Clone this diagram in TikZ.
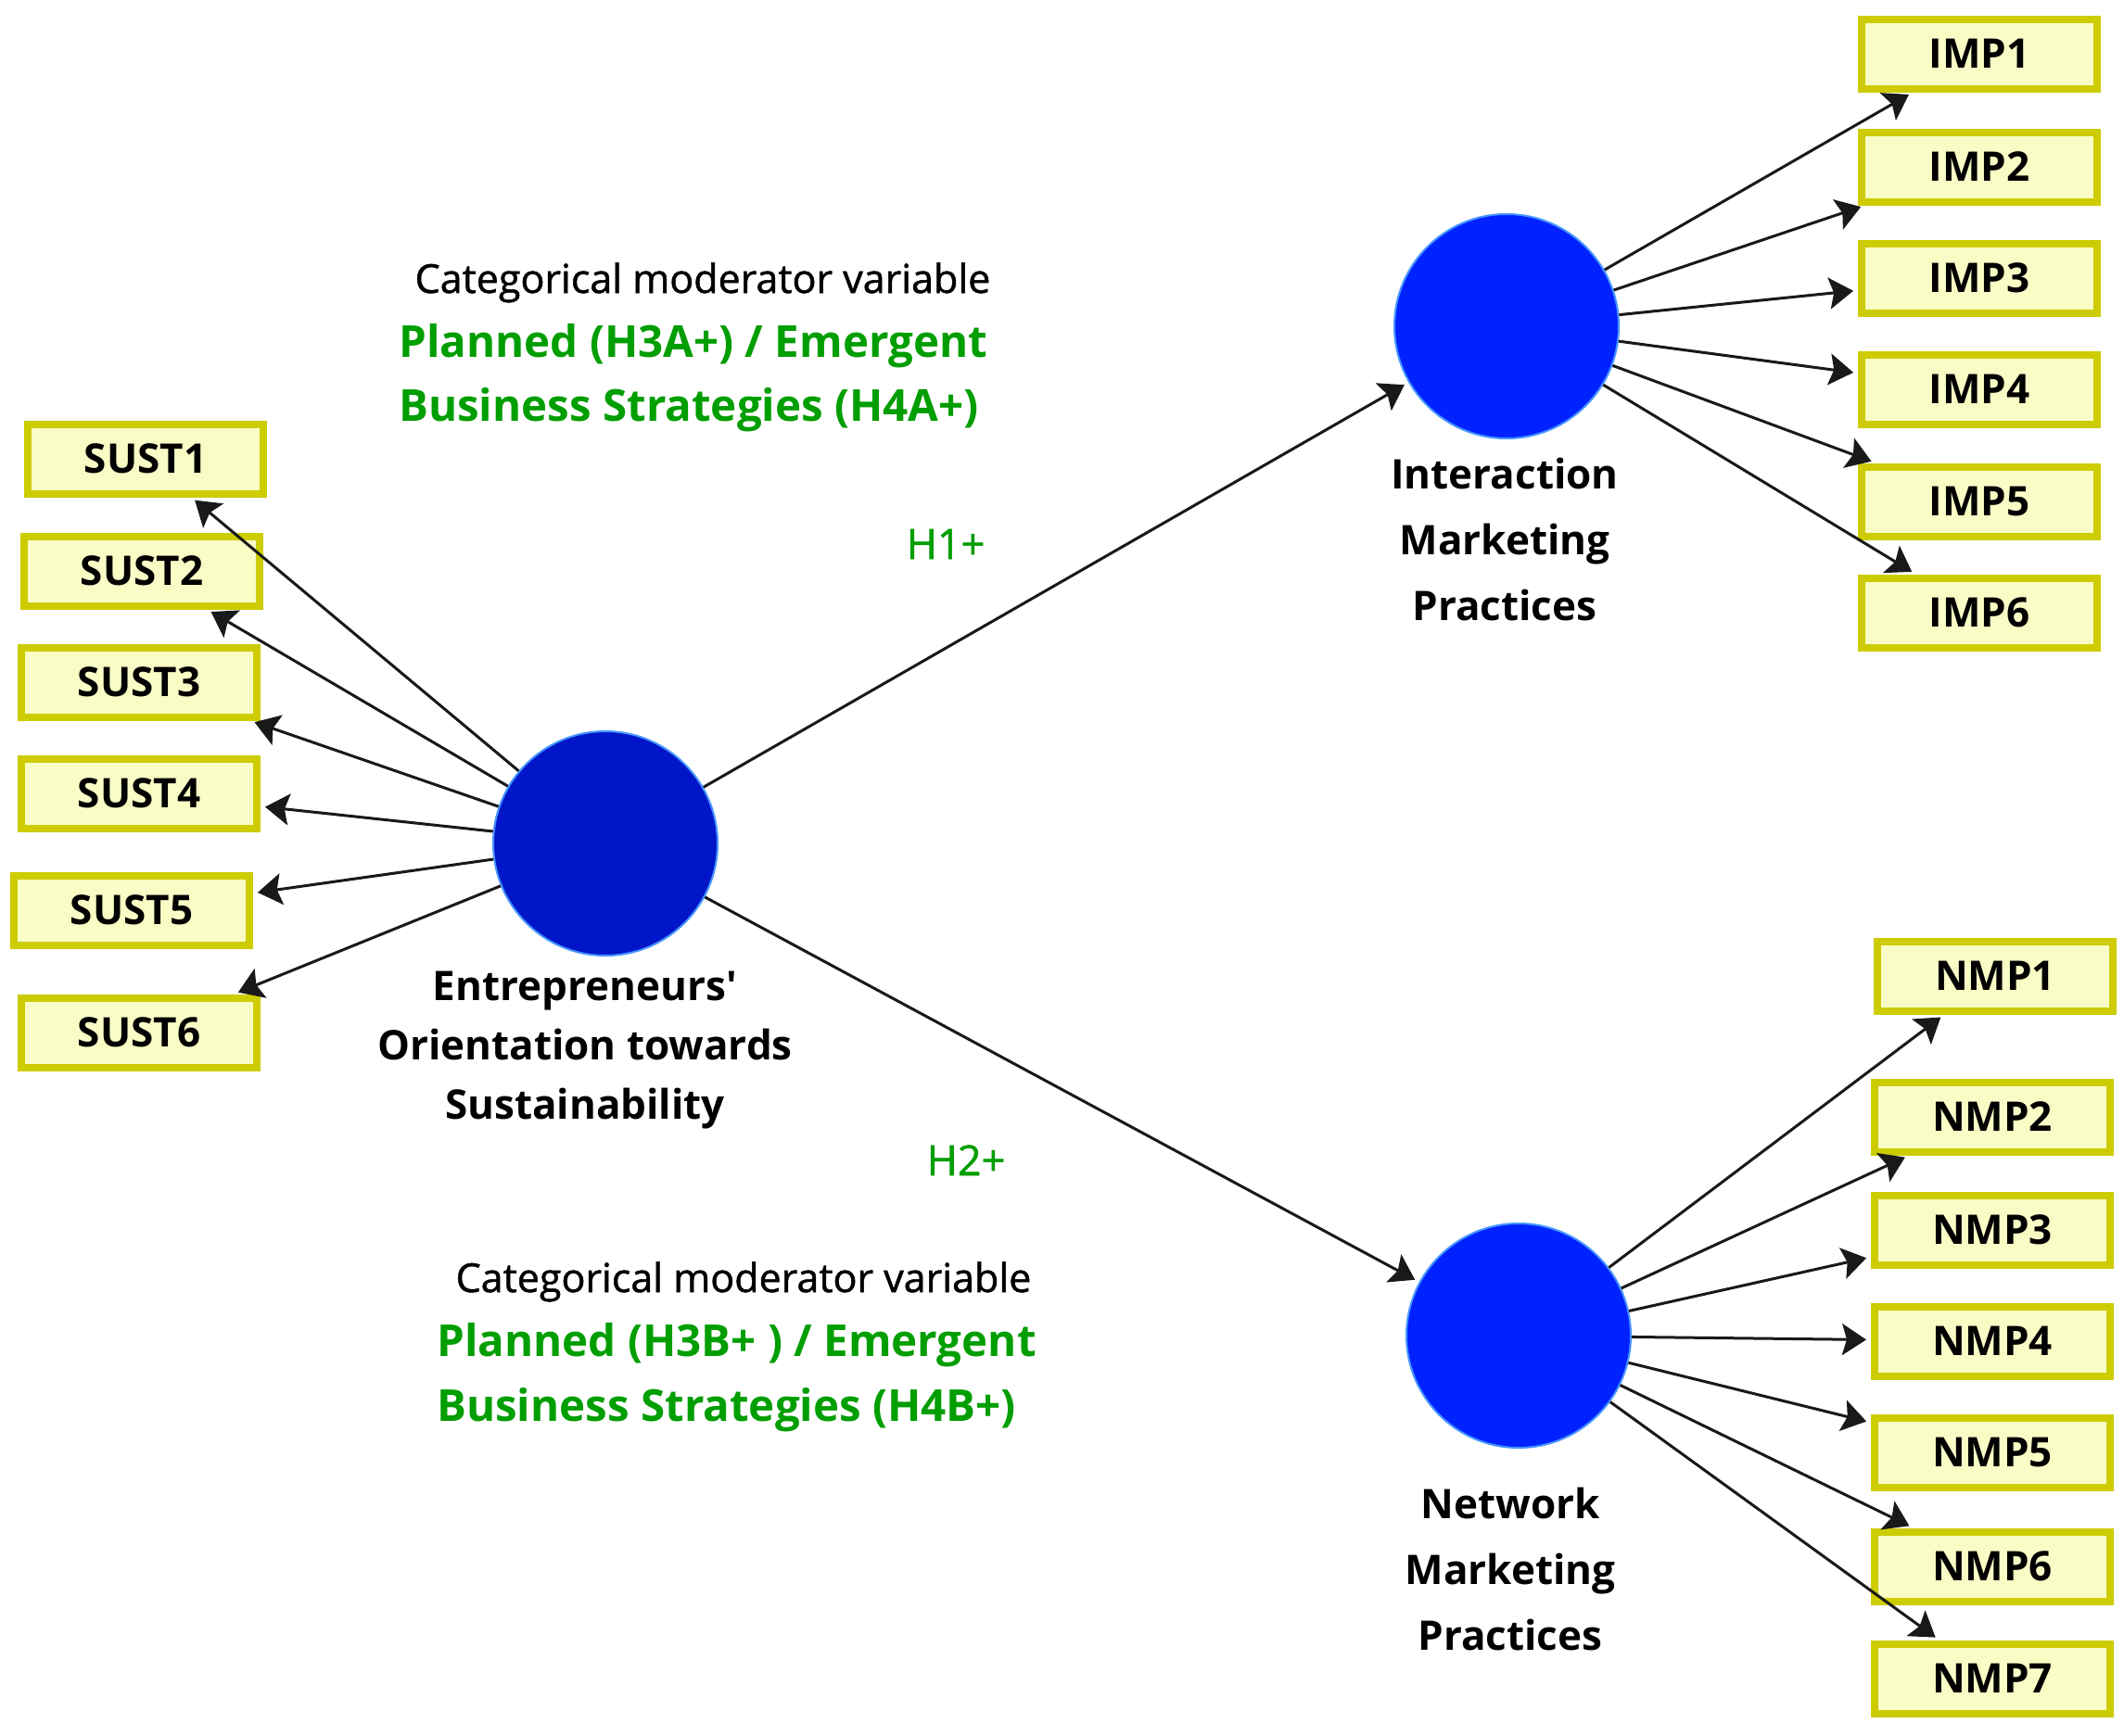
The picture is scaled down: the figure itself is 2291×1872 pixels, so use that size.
\documentclass[tikz,border=0pt]{standalone}
\usepackage{fontspec}
\setmainfont{Open Sans}[Ligatures=TeXOff]
\newfontfamily\semib[FakeBold=1.2,Ligatures=TeXOff]{Open Sans}
\usetikzlibrary{arrows.meta}
\definecolor{boxfill}{RGB}{250,252,198}
\definecolor{boxedge}{RGB}{204,204,0}
\definecolor{eosblue}{RGB}{0,22,200}
\definecolor{lvblue}{RGB}{0,34,255}
\definecolor{rimblue}{RGB}{70,150,255}
\definecolor{hgreen}{RGB}{0,158,0}
\begin{document}
\begin{tikzpicture}[x=1pt,y=-1pt,
  ind/.style={draw=boxedge, line width=8pt, fill=boxfill, minimum width=254pt,
    minimum height=75pt, inner sep=0pt, font=\fontsize{44}{50}\selectfont\bfseries},
  lv/.style={circle, fill=lvblue, draw=rimblue, line width=2pt, minimum size=242pt, inner sep=0pt},
  arr/.style={-{Stealth[length=26pt,width=34pt,inset=5pt]}, line width=3pt, draw=black!90, shorten >=5pt},
  lvlabel/.style={align=center, inner sep=0pt, font=\fontsize{44}{71}\selectfont\bfseries},
  cattext/.style={inner sep=0pt, font=\fontsize{43}{50}\selectfont\semib, text height=32pt, text depth=0pt},
  modtext/.style={inner sep=0pt, anchor=west, align=left, text=hgreen, font=\fontsize{47.5}{69}\selectfont\bfseries},
  hyp/.style={inner sep=0pt, text=hgreen, font=\fontsize{45}{50}\selectfont\semib, text height=32pt, text depth=0pt}
]
\fill[white] (0,0) rectangle (2291,1872);
\useasboundingbox (0,0) rectangle (2291,1872);

% latent variables
\node[lv, fill=eosblue] (eos) at (653,910) {};
\node[lv] (imp) at (1625,352) {};
\node[lv] (nmp) at (1638,1441) {};

% indicators SUST
\node[ind] (sust1) at (157,495) {SUST1};
\node[ind] (sust2) at (153,616) {SUST2};
\node[ind] (sust3) at (150,736) {SUST3};
\node[ind] (sust4) at (150,856) {SUST4};
\node[ind] (sust5) at (142,982) {SUST5};
\node[ind] (sust6) at (150,1114) {SUST6};

% indicators IMP
\node[ind] (imp1) at (2135,58) {IMP1};
\node[ind] (imp2) at (2135,180) {IMP2};
\node[ind] (imp3) at (2135,300) {IMP3};
\node[ind] (imp4) at (2135,420) {IMP4};
\node[ind] (imp5) at (2135,541) {IMP5};
\node[ind] (imp6) at (2135,661) {IMP6};

% indicators NMP
\node[ind] (nmp1) at (2152,1053) {NMP1};
\node[ind] (nmp2) at (2149,1205) {NMP2};
\node[ind] (nmp3) at (2149,1327) {NMP3};
\node[ind] (nmp4) at (2149,1447) {NMP4};
\node[ind] (nmp5) at (2149,1567) {NMP5};
\node[ind] (nmp6) at (2149,1690) {NMP6};
\node[ind] (nmp7) at (2149,1811) {NMP7};

% labels of latent variables
\node[lvlabel, font=\fontsize{44}{64}\selectfont\bfseries] (eoslab) at (631,1133)
  {Entrepreneurs'\\Orientation towards\\Sustainability};
\node[lvlabel] (implab) at (1623,582) {Interaction\\Marketing\\Practices};
\node[lvlabel] (nmplab) at (1629,1693) {Network\\Marketing\\Practices};

% moderator texts
\node[cattext] (cat1) at (758,300) {Categorical moderator variable};
\node[modtext] (mod1) at (430,408) {Planned (H3A+) / Emergent\\Business Strategies (H4A+)};
\node[cattext] (cat2) at (802,1378) {Categorical moderator variable};
\node[modtext, font=\fontsize{47.5}{70}\selectfont\bfseries] (mod2) at (471,1486)
  {Planned (H3B+ ) / Emergent\\Business Strategies (H4B+)};

% hypotheses
\node[hyp] (h1) at (1020,587) {H1+};
\node[hyp] (h2) at (1042,1252) {H2+};

% structural paths
\draw[arr] (eos) -- (imp);
\draw[arr] (eos) -- (nmp);

% measurement paths
\foreach \i in {1,...,6} {\draw[arr] (eos) -- (sust\i);}
\foreach \i in {1,...,6} {\draw[arr] (imp) -- (imp\i);}
\foreach \i in {1,...,7} {\draw[arr] (nmp) -- (nmp\i);}
\end{tikzpicture}
\end{document}
